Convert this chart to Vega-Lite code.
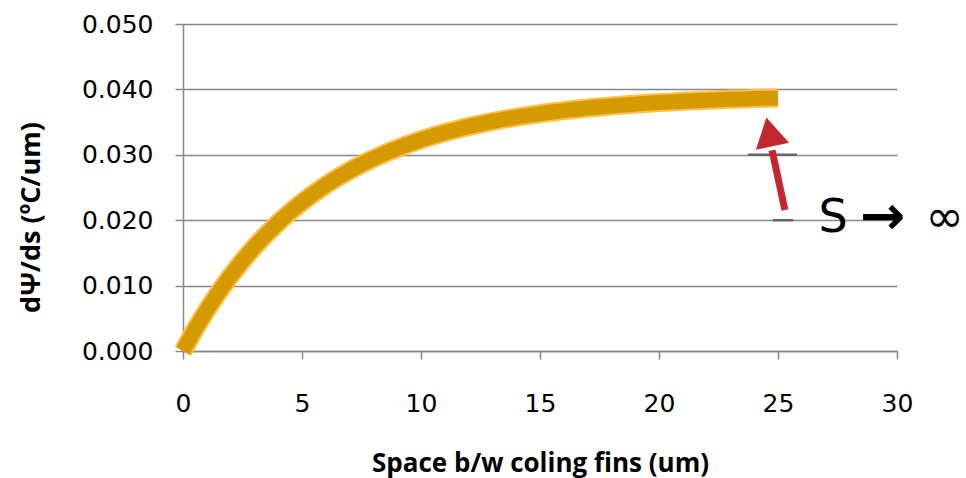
{
  "$schema": "https://vega.github.io/schema/vega-lite/v6.json",
  "width": 714,
  "height": 327,
  "autosize": {"type": "none"},
  "padding": {"left": 183, "top": 24, "right": 69, "bottom": 127},
  "background": "white",
  "config": {
    "view": {"stroke": null},
    "axis": {
      "labelFont": "DejaVu Sans",
      "labelFontSize": 25,
      "labelColor": "#000000",
      "labelFlush": false,
      "titleFont": "Open Sans",
      "titleFontWeight": "bold",
      "titleFontSize": 26,
      "titleColor": "#000000",
      "domainColor": "#888888",
      "domainWidth": 1.5,
      "tickColor": "#888888",
      "tickWidth": 1.5,
      "tickSize": 8,
      "gridColor": "#888888",
      "gridWidth": 1.5
    }
  },
  "datasets": {
    "curve": [
      {"s": 0, "v": 0}, {"s": 0.5, "v": 0.00326}, {"s": 1, "v": 0.00625}, {"s": 1.5, "v": 0.00899},
      {"s": 2, "v": 0.0115}, {"s": 2.5, "v": 0.0138}, {"s": 3, "v": 0.01591}, {"s": 3.5, "v": 0.01785},
      {"s": 4, "v": 0.01962}, {"s": 4.5, "v": 0.02125}, {"s": 5, "v": 0.02274}, {"s": 5.5, "v": 0.02411},
      {"s": 6, "v": 0.02537}, {"s": 6.5, "v": 0.02652}, {"s": 7, "v": 0.02757}, {"s": 7.5, "v": 0.02854},
      {"s": 8, "v": 0.02942}, {"s": 8.5, "v": 0.03024}, {"s": 9, "v": 0.03098}, {"s": 9.5, "v": 0.03167},
      {"s": 10, "v": 0.03229}, {"s": 10.5, "v": 0.03287}, {"s": 11, "v": 0.03339}, {"s": 11.5, "v": 0.03388},
      {"s": 12, "v": 0.03432}, {"s": 12.5, "v": 0.03472}, {"s": 13, "v": 0.0351}, {"s": 13.5, "v": 0.03544},
      {"s": 14, "v": 0.03575}, {"s": 14.5, "v": 0.03604}, {"s": 15, "v": 0.0363}, {"s": 15.5, "v": 0.03654},
      {"s": 16, "v": 0.03676}, {"s": 16.5, "v": 0.03697}, {"s": 17, "v": 0.03715}, {"s": 17.5, "v": 0.03732},
      {"s": 18, "v": 0.03748}, {"s": 18.5, "v": 0.03762}, {"s": 19, "v": 0.03775}, {"s": 19.5, "v": 0.03787},
      {"s": 20, "v": 0.03798}, {"s": 20.5, "v": 0.03808}, {"s": 21, "v": 0.03818}, {"s": 21.5, "v": 0.03826},
      {"s": 22, "v": 0.03834}, {"s": 22.5, "v": 0.03841}, {"s": 23, "v": 0.03848}, {"s": 23.5, "v": 0.03854},
      {"s": 24, "v": 0.03859}, {"s": 24.5, "v": 0.03864}, {"s": 25, "v": 0.03869}
    ],
    "marks": [
      {"x1": 23.74, "x2": 25.8, "y": 0.03},
      {"x1": 24.79, "x2": 25.63, "y": 0.02}
    ],
    "shaft": [{"x1": 25.29, "y1": 0.02156, "x2": 24.75, "y2": 0.0307}],
    "head": [{"x": 24.64, "y": 0.0335}],
    "label": [
      {"x": 26.7, "y": 0.0203, "text": "S"},
      {"x": 31.2, "y": 0.0203, "text": "∞"}
    ],
    "arrowlabel": [
      {"x": 28.45, "y": 0.0203, "text": "→"}
    ]
  },
  "layer": [
    {
      "data": {"name": "curve"},
      "mark": {"type": "line", "color": "#FFC046", "strokeWidth": 19, "strokeCap": "butt", "strokeJoin": "round"},
      "encoding": {
        "x": {
          "field": "s", "type": "quantitative",
          "scale": {"domain": [0, 30], "nice": false, "zero": false},
          "axis": {
            "values": [0, 5, 10, 15, 20, 25, 30],
            "grid": false,
            "labelPadding": 32,
            "title": "Space b/w coling fins (um)",
            "titlePadding": 34
          }
        },
        "y": {
          "field": "v", "type": "quantitative",
          "scale": {"domain": [0, 0.05], "nice": false},
          "axis": {
            "values": [0, 0.01, 0.02, 0.03, 0.04, 0.05],
            "format": ".3f",
            "grid": true,
            "labelPadding": 22,
            "title": "dΨ/ds (ºC/um)",
            "titleFontSize": 27,
            "titleY": 193,
            "titlePadding": 36
          }
        }
      }
    },
    {
      "data": {"name": "curve"},
      "mark": {"type": "line", "color": "#D49A00", "strokeWidth": 15, "strokeCap": "butt", "strokeJoin": "round"},
      "encoding": {
        "x": {"field": "s", "type": "quantitative"},
        "y": {"field": "v", "type": "quantitative"}
      }
    },
    {
      "data": {"name": "marks"},
      "mark": {"type": "rule", "color": "#666666", "strokeWidth": 2.5},
      "encoding": {
        "x": {"field": "x1", "type": "quantitative"},
        "x2": {"field": "x2"},
        "y": {"field": "y", "type": "quantitative"}
      }
    },
    {
      "data": {"name": "shaft"},
      "mark": {"type": "rule", "color": "#C4282E", "strokeWidth": 7},
      "encoding": {
        "x": {"field": "x1", "type": "quantitative"},
        "y": {"field": "y1", "type": "quantitative"},
        "x2": {"field": "x2"},
        "y2": {"field": "y2"}
      }
    },
    {
      "data": {"name": "head"},
      "mark": {"type": "point", "shape": "triangle-up", "filled": true, "color": "#C4282E", "size": 1150, "angle": -12, "opacity": 1},
      "encoding": {
        "x": {"field": "x", "type": "quantitative"},
        "y": {"field": "y", "type": "quantitative"}
      }
    },
    {
      "data": {"name": "label"},
      "mark": {"type": "text", "font": "DejaVu Sans", "fontSize": 46, "align": "left", "baseline": "middle", "color": "#000000"},
      "encoding": {
        "x": {"field": "x", "type": "quantitative"},
        "y": {"field": "y", "type": "quantitative"},
        "text": {"field": "text"}
      }
    },
    {
      "data": {"name": "arrowlabel"},
      "mark": {"type": "text", "font": "DejaVu Sans", "fontWeight": "bold", "fontSize": 54, "align": "left", "baseline": "middle", "color": "#000000"},
      "encoding": {
        "x": {"field": "x", "type": "quantitative"},
        "y": {"field": "y", "type": "quantitative"},
        "text": {"field": "text"}
      }
    }
  ]
}
